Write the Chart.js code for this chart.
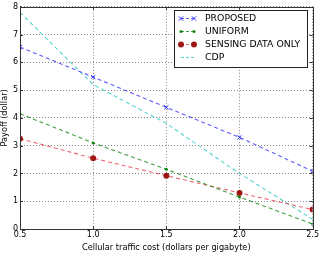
<!DOCTYPE html>
<html>
<head>
<meta charset="utf-8">
<script src="https://cdn.jsdelivr.net/npm/chart.js@4/dist/chart.umd.min.js"></script>
<style>
  html, body { margin: 0; padding: 0; background: #fff; }
  canvas { display: block; }
</style>
</head>
<body>
<canvas id="c" width="320" height="253"></canvas>
<script>
// Data
const costs      = [0.5, 1.0, 1.5, 2.0, 2.5];
const proposed   = [6.55, 5.47, 4.38, 3.30, 2.08];
const uniform    = [4.15, 3.10, 2.15, 1.15, 0.18];
const sensing    = [3.25, 2.55, 1.92, 1.30, 0.70];
const cdp        = [7.80, 5.20, 3.80, 2.00, 0.35];
const seriesNames = ['PROPOSED', 'UNIFORM', 'SENSING DATA ONLY', 'CDP'];
const xTicks = [0.5, 1.0, 1.5, 2.0, 2.5];
const yTicks = [0, 1, 2, 3, 4, 5, 6, 7, 8];

const FONT = 'DejaVu Sans';

function pts(ys) {
  return costs.map((x, i) => ({ x: x, y: ys[i] }));
}

const dash = [4, 3];

const datasets = [
  {
    label: seriesNames[0], data: pts(proposed),
    borderColor: 'rgba(40,40,255,0.75)', borderWidth: 1.1, borderDash: dash,
    pointStyle: 'crossRot', pointRadius: 3, pointBorderWidth: 1,
    pointBorderColor: 'rgba(30,30,255,0.9)', pointBackgroundColor: 'rgba(30,30,255,0.9)'
  },
  {
    label: seriesNames[1], data: pts(uniform),
    borderColor: 'rgba(0,128,0,0.75)', borderWidth: 1.1, borderDash: dash,
    pointStyle: 'circle', pointRadius: 1.5, pointBorderWidth: 0,
    pointBackgroundColor: 'rgba(0,128,0,0.9)'
  },
  {
    label: seriesNames[2], data: pts(sensing),
    borderColor: 'rgba(230,40,60,0.7)', borderWidth: 1.1, borderDash: dash,
    pointStyle: 'circle', pointRadius: 3, pointBorderWidth: 0,
    pointBackgroundColor: 'rgba(150,0,0,0.9)'
  },
  {
    label: seriesNames[3], data: pts(cdp),
    borderColor: 'rgba(64,210,200,0.9)', borderWidth: 1.1, borderDash: dash,
    pointRadius: 0
  }
];

// solid frame with inward tick marks, like the matplotlib axes box
const frame = {
  id: 'frame',
  afterDatasetsDraw(chart) {
    const { ctx, chartArea: a, scales } = chart;
    ctx.save();
    ctx.setLineDash([]);
    ctx.strokeStyle = '#333';
    ctx.lineWidth = 1;
    ctx.strokeRect(Math.round(a.left) + 0.5, Math.round(a.top) + 0.5,
                   Math.round(a.right - a.left), Math.round(a.bottom - a.top));
    ctx.beginPath();
    xTicks.forEach(v => {
      const px = Math.round(scales.x.getPixelForValue(v)) + 0.5;
      ctx.moveTo(px, a.bottom); ctx.lineTo(px, a.bottom - 3);
      ctx.moveTo(px, a.top); ctx.lineTo(px, a.top + 3);
    });
    yTicks.forEach(v => {
      const py = Math.round(scales.y.getPixelForValue(v)) + 0.5;
      ctx.moveTo(a.left, py); ctx.lineTo(a.left + 3, py);
      ctx.moveTo(a.right, py); ctx.lineTo(a.right - 3, py);
    });
    ctx.stroke();
    ctx.restore();
  }
};

// matplotlib-style legend box in the upper right
const boxLegend = {
  id: 'boxLegend',
  afterDraw(chart) {
    const ctx = chart.ctx;
    const x0 = 174, y0 = 10, w = 133, h = 57;
    ctx.save();
    ctx.setLineDash([]);
    ctx.fillStyle = '#fff';
    ctx.fillRect(x0, y0, w, h);
    ctx.strokeStyle = '#222';
    ctx.lineWidth = 1;
    ctx.strokeRect(x0 + 0.5, y0 + 0.5, w, h);
    ctx.font = '9.3px ' + FONT;
    ctx.textBaseline = 'middle';
    chart.data.datasets.forEach((ds, i) => {
      const y = y0 + 8.5 + i * 13;
      const xa = x0 + 7, xb = x0 + 20;
      ctx.strokeStyle = ds.borderColor;
      ctx.lineWidth = 1;
      ctx.setLineDash([3, 2]);
      ctx.beginPath();
      ctx.moveTo(xa, y);
      ctx.lineTo(xb, y);
      ctx.stroke();
      ctx.setLineDash([]);
      if (ds.pointRadius > 0) {
        [xa, xb].forEach(px => {
          if (ds.pointStyle === 'crossRot') {
            const r = 2.2;
            ctx.strokeStyle = ds.pointBorderColor;
            ctx.beginPath();
            ctx.moveTo(px - r, y - r); ctx.lineTo(px + r, y + r);
            ctx.moveTo(px - r, y + r); ctx.lineTo(px + r, y - r);
            ctx.stroke();
          } else {
            ctx.fillStyle = ds.pointBackgroundColor;
            ctx.beginPath();
            ctx.arc(px, y, ds.pointRadius, 0, Math.PI * 2);
            ctx.fill();
          }
        });
      }
      ctx.fillStyle = '#000';
      ctx.fillText(ds.label, x0 + 31, y + 0.5);
    });
    ctx.restore();
  }
};

new Chart(document.getElementById('c'), {
  type: 'line',
  data: { datasets: datasets },
  options: {
    responsive: false,
    animation: false,
    layout: { padding: { top: 5, right: 7, left: 0, bottom: 0 } },
    plugins: { legend: { display: false }, tooltip: { enabled: false } },
    scales: {
      x: {
        type: 'linear', min: 0.5, max: 2.5,
        afterBuildTicks: s => { s.ticks = xTicks.map(v => ({ value: v })); },
        afterFit: s => { s.height = 24; },
        ticks: {
          callback: v => v.toFixed(1), color: '#000', padding: 1,
          maxRotation: 0, font: { family: FONT, size: 8 }
        },
        grid: { color: '#555', lineWidth: 0.7, tickLength: 0 },
        border: { color: '#333', width: 1, dash: [1, 2] },
        title: {
          display: true, text: 'Cellular traffic cost (dollars per gigabyte)',
          color: '#000', padding: { top: 0, bottom: 0 },
          font: { family: FONT, size: 8.2 }
        }
      },
      y: {
        type: 'linear', min: 0, max: 8,
        afterBuildTicks: s => { s.ticks = yTicks.map(v => ({ value: v })); },
        afterFit: s => { s.width = 20; },
        ticks: {
          color: '#000', padding: 2, font: { family: FONT, size: 8 }
        },
        grid: { color: '#555', lineWidth: 0.7, tickLength: 0 },
        border: { color: '#333', width: 1, dash: [1, 2] },
        title: {
          display: true, text: 'Payoff (dollar)', color: '#000',
          padding: { top: 0, bottom: 0 },
          font: { family: FONT, size: 8.2 }
        }
      }
    }
  },
  plugins: [frame, boxLegend]
});
</script>
</body>
</html>
